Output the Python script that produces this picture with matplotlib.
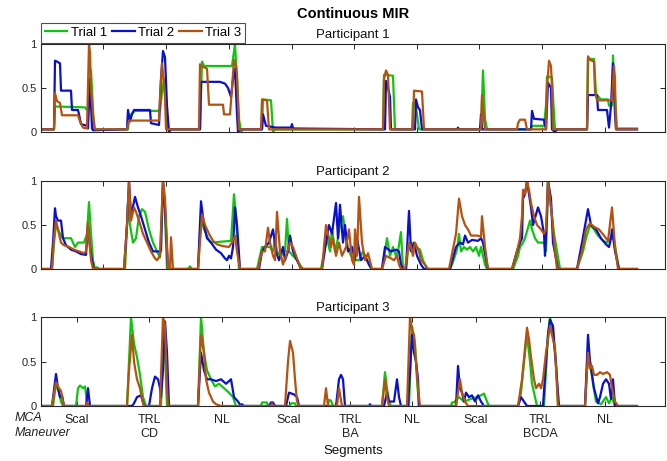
import matplotlib
matplotlib.use("Agg")
import matplotlib.pyplot as plt
from matplotlib.lines import Line2D

plt.rcParams['font.family'] = ['Liberation Sans', 'DejaVu Sans']

# ---------------- data (time index, MIR value) ----------------
trial_names = ["Trial 1", "Trial 2", "Trial 3"]
participants = ["Participant 1", "Participant 2", "Participant 3"]

P1_T1 = [(0,0.03),(13,0.03),(14,0.29),(44,0.28),(46,0.25),(48,0.3),(50,0.70),(53,0.03),(87,0.03),(88,0.18),(90,0.2),(94,0.24),(119,0.24),(121,0.45),(123,0.6),(125,0.3),(126,0.03),(159,0.03),(161,0.80),(163,0.75),(191,0.75),(194,1.0),(196,0.6),(198,0.15),(200,0.0),(202,0.03),(221,0.03),(222,0.37),(230,0.36),(232,0.0),(234,0.03),(342,0.03),(343,0.65),(352,0.64),(354,0.03),(371,0.03),(372,0.33),(374,0.33),(376,0.2),(378,0.03),(440,0.03),(442,0.70),(444,0.15),(446,0.03),(490,0.03),(491,0.07),(503,0.07),(505,0.3),(506,0.63),(511,0.62),(513,0.2),(514,0.03),(546,0.03),(547,0.83),(553,0.83),(555,0.43),(560,0.37),(567,0.37),(568,0.3),(571,0.3),(572,0.87),(574,0.4),(576,0.04),(596,0.04)]
P1_T2 = [(0,0.03),(13,0.03),(14,0.81),(16,0.80),(19,0.78),(20,0.47),(30,0.47),(31,0.25),(37,0.25),(38,0.2),(40,0.09),(46,0.07),(47,0.04),(49,0.6),(51,0.04),(52,0.02),(86,0.03),(87,0.25),(89,0.12),(91,0.2),(93,0.25),(109,0.25),(110,0.1),(118,0.08),(120,0.6),(122,0.92),(124,0.85),(126,0.3),(128,0.0),(130,0.03),(159,0.03),(160,0.57),(179,0.57),(184,0.55),(187,0.5),(190,0.4),(192,0.6),(194,0.72),(196,0.2),(197,0.0),(199,0.03),(221,0.03),(222,0.2),(225,0.07),(235,0.05),(250,0.05),(251,0.09),(252,0.04),(344,0.03),(345,0.58),(347,0.5),(349,0.4),(350,0.03),(374,0.03),(375,0.37),(377,0.28),(379,0.25),(381,0.03),(416,0.03),(417,0.05),(418,0.03),(439,0.03),(440,0.2),(441,0.03),(490,0.03),(491,0.24),(493,0.15),(503,0.14),(505,0.03),(506,0.3),(507,0.56),(510,0.5),(511,0.03),(514,0.0),(516,0.03),(546,0.03),(547,0.42),(556,0.42),(557,0.25),(566,0.25),(568,0.05),(570,0.3),(572,0.78),(574,0.2),(575,0.03),(596,0.03)]
P1_T3 = [(0,0.03),(13,0.03),(14,0.44),(16,0.35),(19,0.33),(21,0.19),(37,0.19),(39,0.12),(42,0.05),(46,0.04),(48,1.0),(49,0.9),(50,0.5),(52,0.2),(54,0.03),(86,0.03),(88,0.13),(118,0.13),(119,0.4),(121,0.78),(123,0.55),(124,0.4),(125,0.03),(158,0.03),(159,0.77),(162,0.74),(166,0.72),(168,0.31),(182,0.31),(183,0.2),(189,0.2),(191,0.5),(193,0.82),(195,0.75),(196,0.65),(198,0.03),(220,0.03),(221,0.37),(226,0.36),(228,0.03),(342,0.03),(343,0.6),(345,0.7),(347,0.65),(349,0.03),(372,0.03),(373,0.47),(381,0.46),(383,0.03),(440,0.03),(441,0.42),(443,0.15),(444,0.03),(476,0.03),(477,0.1),(479,0.14),(484,0.14),(486,0.03),(505,0.03),(506,0.5),(508,0.81),(510,0.75),(511,0.5),(512,0.03),(546,0.03),(547,0.86),(549,0.82),(553,0.8),(554,0.46),(556,0.36),(571,0.36),(573,0.75),(574,0.6),(575,0.03),(596,0.03)]

P2_T1 = [(0,0),(11,0),(13,0.3),(15,0.5),(17,0.45),(20,0.38),(22,0.35),(30,0.35),(34,0.25),(37,0.3),(43,0.3),(46,0.4),(48,0.76),(50,0.4),(52,0.1),(54,0),(56,0.02),(58,0),(84,0),(87,0.75),(89,0.5),(92,0.3),(95,0.35),(98,0.6),(101,0.68),(104,0.65),(108,0.45),(112,0.3),(116,0.2),(119,0.13),(122,1.0),(124,0.6),(126,0),(147,0),(149,0.03),(151,0),(157,0),(160,0.6),(163,0.45),(167,0.35),(170,0.3),(190,0.32),(193,0.85),(195,0.6),(198,0),(216,0),(219,0.15),(221,0.25),(229,0.25),(232,0.2),(234,0.35),(236,0.2),(240,0.15),(244,0.2),(246,0.57),(248,0.2),(252,0.15),(256,0.1),(260,0.03),(262,0),(280,0),(284,0.25),(286,0.35),(289,0.2),(291,0.45),(294,0.2),(297,0.35),(299,0.5),(302,0.6),(306,0.25),(310,0.15),(315,0.1),(318,0.1),(322,0.2),(326,0.1),(330,0),(341,0),(344,0.2),(346,0.35),(349,0.15),(352,0.25),(355,0.15),(357,0.2),(360,0.42),(362,0),(365,0),(367,0.2),(370,0.3),(375,0.25),(379,0.22),(382,0.1),(386,0),(409,0),(411,0.05),(416,0.22),(418,0.4),(420,0.2),(423,0.25),(426,0.22),(429,0.25),(432,0.2),(435,0.25),(438,0.15),(440,0.25),(444,0.05),(446,0),(472,0),(477,0.15),(479,0.25),(482,0.3),(484,0.35),(489,0.55),(491,0.45),(494,0.35),(497,0.3),(503,0.3),(505,0.2),(507,1.0),(510,0.7),(513,0.4),(516,0.2),(519,0),(536,0),(542,0.2),(545,0.35),(549,0.5),(553,0.45),(557,0.38),(562,0.32),(566,0.3),(570,0.35),(572,0.4),(575,0.2),(578,0),(596,0)]
P2_T2 = [(0,0),(10,0),(12,0.3),(14,0.69),(15,0.6),(17,0.55),(20,0.55),(22,0.35),(25,0.27),(30,0.22),(35,0.2),(40,0.17),(45,0.16),(47,0.5),(49,0.25),(51,0.1),(53,0),(83,0),(86,0.5),(88,1.0),(90,0.6),(94,0.82),(97,0.7),(100,0.6),(104,0.45),(108,0.3),(112,0.2),(120,0.2),(122,1.0),(124,0.7),(127,0),(157,0),(159,0.5),(160,0.77),(163,0.5),(166,0.35),(170,0.3),(175,0.22),(180,0.18),(184,0.12),(186,0.1),(188,0.15),(190,0.12),(192,0.25),(194,0.7),(196,0.5),(199,0),(218,0),(221,0.2),(224,0.25),(228,0.3),(232,0.45),(235,0.2),(238,0.1),(242,0.25),(244,0.1),(247,0.2),(249,0.38),(252,0.2),(256,0.1),(260,0),(281,0),(285,0.3),(288,0.5),(291,0.4),(295,0.75),(297,0.35),(299,0.73),(302,0.3),(304,0.5),(307,0.2),(311,0.25),(314,0.1),(316,0.35),(320,0.1),(324,0.15),(328,0.05),(331,0),(341,0),(344,0.25),(350,0.2),(355,0.22),(358,0.2),(360,0.05),(362,0),(365,0),(368,0.66),(370,0.2),(373,0.3),(376,0.15),(380,0.05),(383,0),(409,0),(415,0.25),(419,0.3),(422,0.28),(424,0.38),(427,0.3),(431,0.33),(437,0.32),(440,0.35),(442,0.3),(446,0.05),(447,0),(471,0),(476,0.2),(479,0.3),(481,0.35),(482,0.8),(484,0.85),(486,1.0),(488,0.85),(490,0.7),(492,0.5),(497,0.7),(500,0.6),(503,0.4),(504,0.15),(506,0.6),(507,1.0),(510,0.8),(512,0.3),(517,0),(536,0),(541,0.3),(547,0.68),(550,0.5),(555,0.45),(560,0.35),(565,0.28),(568,0.25),(570,0.35),(571,0.45),(574,0.2),(578,0),(596,0)]
P2_T3 = [(0,0),(11,0),(13,0.35),(15,0.55),(17,0.45),(20,0.3),(23,0.27),(28,0.25),(33,0.22),(38,0.2),(43,0.18),(45,0.2),(47,0.53),(49,0.25),(50,0.1),(52,0),(83,0),(86,0.5),(88,1.0),(90,0.55),(93,0.7),(95,0.65),(98,0.55),(102,0.4),(106,0.3),(110,0.2),(114,0.12),(116,0.1),(119,0.15),(122,1.0),(124,0.8),(127,0),(129,0),(130,0.36),(132,0),(157,0),(161,0.62),(164,0.5),(168,0.4),(172,0.32),(176,0.28),(182,0.26),(188,0.25),(191,0.3),(194,0.38),(196,0.2),(199,0),(217,0),(221,0.2),(224,0.2),(227,0.47),(229,0.3),(232,0.15),(234,0.1),(236,0.65),(239,0.2),(242,0.05),(245,0.15),(249,0.3),(252,0.25),(255,0.15),(260,0),(281,0),(285,0.5),(287,0.4),(290,0.25),(292,0.35),(295,0.15),(298,0.3),(301,0.15),(305,0.25),(308,0.45),(311,0.1),(313,0.05),(314,0.45),(316,0.15),(318,0.82),(321,0.3),(324,0.1),(327,0.18),(331,0),(341,0),(345,0.15),(350,0.12),(353,0.1),(356,0.15),(358,0.05),(360,0),(364,0),(368,0.3),(370,0.25),(372,0.15),(374,0.3),(378,0.2),(380,0.1),(384,0.05),(387,0),(408,0),(415,0.4),(418,0.8),(421,0.6),(424,0.5),(427,0.45),(430,0.38),(436,0.38),(440,0.37),(441,0.6),(444,0.25),(447,0),(471,0),(477,0.25),(479,0.35),(481,0.6),(482,0.9),(484,0.85),(486,1.0),(488,0.9),(490,0.75),(493,0.6),(496,0.5),(500,0.45),(503,0.4),(505,0.45),(507,1.0),(511,0.6),(514,0.2),(516,0),(536,0),(541,0.2),(545,0.45),(549,0.52),(553,0.48),(558,0.45),(563,0.38),(567,0.32),(571,0.7),(574,0.25),(577,0),(596,0)]

P3_T1 = [(0,0),(12,0),(15,0.25),(18,0.15),(20,0.05),(22,0),(35,0),(37,0.2),(39,0.23),(42,0.2),(44,0.22),(46,0.05),(47,0),(86,0),(88,0.5),(90,1.0),(93,0.7),(96,0.55),(99,0.35),(102,0.1),(105,0),(120,0),(123,0.95),(125,0.3),(126,0),(157,0),(160,1.0),(163,0.6),(166,0.4),(170,0.3),(174,0.22),(178,0.25),(183,0.2),(188,0.15),(192,0.1),(195,0),(220,0),(221,0.04),(226,0.04),(227,0),(249,0),(250,0.03),(254,0.03),(255,0),(287,0),(288,0.07),(290,0.06),(292,0),(341,0),(344,0.38),(346,0.2),(348,0.05),(350,0),(368,0),(371,0.9),(374,0.7),(376,0.3),(378,0),(410,0),(411,0.04),(413,0.04),(418,0.1),(423,0.05),(430,0.08),(436,0.1),(440,0.12),(443,0.14),(446,0.05),(448,0),(477,0),(480,0.15),(484,0.6),(486,0.8),(489,0.5),(491,0.25),(494,0.1),(496,0),(503,0),(507,0.8),(509,1.0),(512,0.8),(515,0.5),(517,0),(544,0),(547,0.6),(549,0.5),(552,0.25),(555,0.05),(560,0.02),(565,0.1),(568,0.03),(571,0.1),(574,0),(596,0)]
P3_T2 = [(0,0),(11,0),(15,0.36),(17,0.2),(19,0.1),(21,0.12),(23,0),(45,0),(47,0.2),(49,0),(91,0),(93,0.03),(96,0.1),(100,0.12),(103,0),(108,0),(111,0.2),(114,0.33),(117,0.3),(119,0.2),(120,0.1),(122,0.4),(124,0.95),(126,0.6),(128,0),(157,0),(160,0.6),(163,0.4),(166,0.3),(170,0.3),(175,0.28),(180,0.3),(185,0.25),(190,0.3),(193,0.1),(197,0.05),(200,0),(201,0.02),(203,0),(228,0),(230,0.04),(232,0.04),(234,0),(245,0),(248,0.15),(253,0.13),(256,0.1),(258,0),(295,0),(298,0.3),(300,0.35),(302,0.3),(304,0),(328,0),(329,0.02),(330,0),(343,0),(346,0.15),(348,0.05),(353,0.05),(356,0.3),(358,0.1),(360,0),(367,0),(371,0.8),(373,0.6),(375,0.5),(377,0.3),(378,0),(415,0),(417,0.45),(419,0.2),(421,0.15),(423,0.05),(425,0.15),(428,0.1),(431,0.12),(434,0.05),(437,0.12),(440,0.05),(443,0),(477,0),(480,0.1),(483,0.05),(486,0),(502,0),(505,0.5),(507,0.8),(509,0.97),(512,0.9),(514,0.6),(516,0.3),(518,0),(544,0),(547,0.8),(549,0.5),(551,0.35),(553,0.2),(557,0.03),(559,0.1),(562,0.25),(565,0.3),(568,0.25),(570,0.08),(572,0.3),(574,0),(596,0)]
P3_T3 = [(0,0),(11,0),(15,0.27),(18,0.2),(20,0.17),(22,0.05),(23,0),(45,0),(46,0.04),(47,0),(86,0),(88,0.4),(91,0.8),(93,0.5),(96,0.3),(99,0.2),(101,0.08),(103,0),(119,0),(122,1.0),(124,0.9),(126,0.2),(127,0),(157,0),(160,0.8),(163,0.6),(165,0.3),(168,0.15),(172,0.05),(175,0.02),(180,0),(230,0),(231,0.03),(232,0),(244,0),(247,0.5),(249,0.73),(252,0.6),(254,0.3),(256,0.05),(258,0),(283,0),(285,0.2),(287,0),(296,0),(298,0.2),(301,0),(341,0),(344,0.3),(346,0.1),(348,0),(366,0),(369,1.0),(371,0.85),(373,0.8),(375,0.5),(377,0.2),(379,0),(415,0),(419,0.3),(421,0.15),(424,0.05),(427,0),(477,0),(481,0.3),(486,0.88),(488,0.75),(490,0.55),(493,0.3),(495,0.2),(498,0.25),(500,0.2),(502,0.3),(505,0.6),(509,0.9),(511,0.8),(514,0.65),(517,0),(544,0),(547,0.6),(549,0.42),(551,0.45),(553,0.35),(556,0.35),(559,0.38),(562,0.36),(566,0.38),(569,0.35),(571,0.2),(574,0.05),(577,0),(596,0)]

segment_labels = ["Scal", "TRL\nCD", "NL", "Scal", "TRL\nBA", "NL", "Scal", "TRL\nBCDA", "NL"]
segment_centers = [36, 108, 181, 248, 309, 371, 435, 499, 564]
grid_ticks = [62, 125, 188, 251, 313, 376, 438, 501, 564]
x_max = 624

series = [[P1_T1, P1_T2, P1_T3], [P2_T1, P2_T2, P2_T3], [P3_T1, P3_T2, P3_T3]]
colors = ["#12C412", "#0A10CC", "#B5520F"]

# ---------------- figure ----------------
W, H = 667, 461
fig = plt.figure(figsize=(W / 100, H / 100), dpi=100)
axc = "#262626"
rows = [(44, 132), (181, 269), (317, 406)]
axes = []
for (top, bot) in rows:
    ax = fig.add_axes([41 / W, (H - bot) / H, 624 / W, (bot - top) / H])
    axes.append(ax)

for i, ax in enumerate(axes):
    for j, pts in enumerate(series[i]):
        xs = [p[0] for p in pts]
        ys = [p[1] for p in pts]
        ax.plot(xs, ys, color=colors[j], lw=1.6, solid_joinstyle='round')
    ax.set_xlim(0, x_max)
    ax.set_ylim(0, 1)
    ax.set_yticks([0, 0.5, 1])
    ax.set_yticklabels(["0", "0.5", "1"])
    for s in ax.spines.values():
        s.set_color(axc)
        s.set_linewidth(0.8)
    ax.tick_params(direction='in', length=3.5, width=0.7, colors=axc,
                   top=True, right=True, labelsize=8, pad=3)
    if i < 2:
        ax.set_xticks(grid_ticks)
        ax.set_xticklabels([])
    else:
        ax.set_xticks(segment_centers)
        ax.set_xticklabels(segment_labels, fontsize=9)
        ax.tick_params(axis='x', pad=6, labelcolor='#222222')
    yc = rows[i][0] - 9
    fig.text(353 / W, 1 - yc / H, participants[i], ha='center', va='center',
             fontsize=9.5, color='#111111')

fig.text(353 / W, 1 - 14 / H, "Continuous MIR", ha='center', va='center',
         fontsize=10.5, fontweight='bold')
fig.text(15 / W, 1 - 418 / H, "MCA", ha='left', va='center', fontsize=9,
         style='italic', color='#222222')
fig.text(15 / W, 1 - 433 / H, "Maneuver", ha='left', va='center', fontsize=9,
         style='italic', color='#222222')
fig.text(353 / W, 1 - 451 / H, "Segments", ha='center', va='center', fontsize=9.5,
         color='#111111')

handles = [Line2D([0], [0], color=c, lw=1.6) for c in colors]
leg = fig.legend(handles, trial_names, loc='lower left',
                 bbox_to_anchor=(41 / W, 1 - 43 / H), ncol=3, fontsize=9.5,
                 frameon=True, fancybox=False, borderpad=0.3, handlelength=1.7,
                 handletextpad=0.25, columnspacing=0.4, borderaxespad=0)
leg.get_frame().set_edgecolor('#222222')
leg.get_frame().set_linewidth(0.8)

fig.savefig("out.png", dpi=100)
